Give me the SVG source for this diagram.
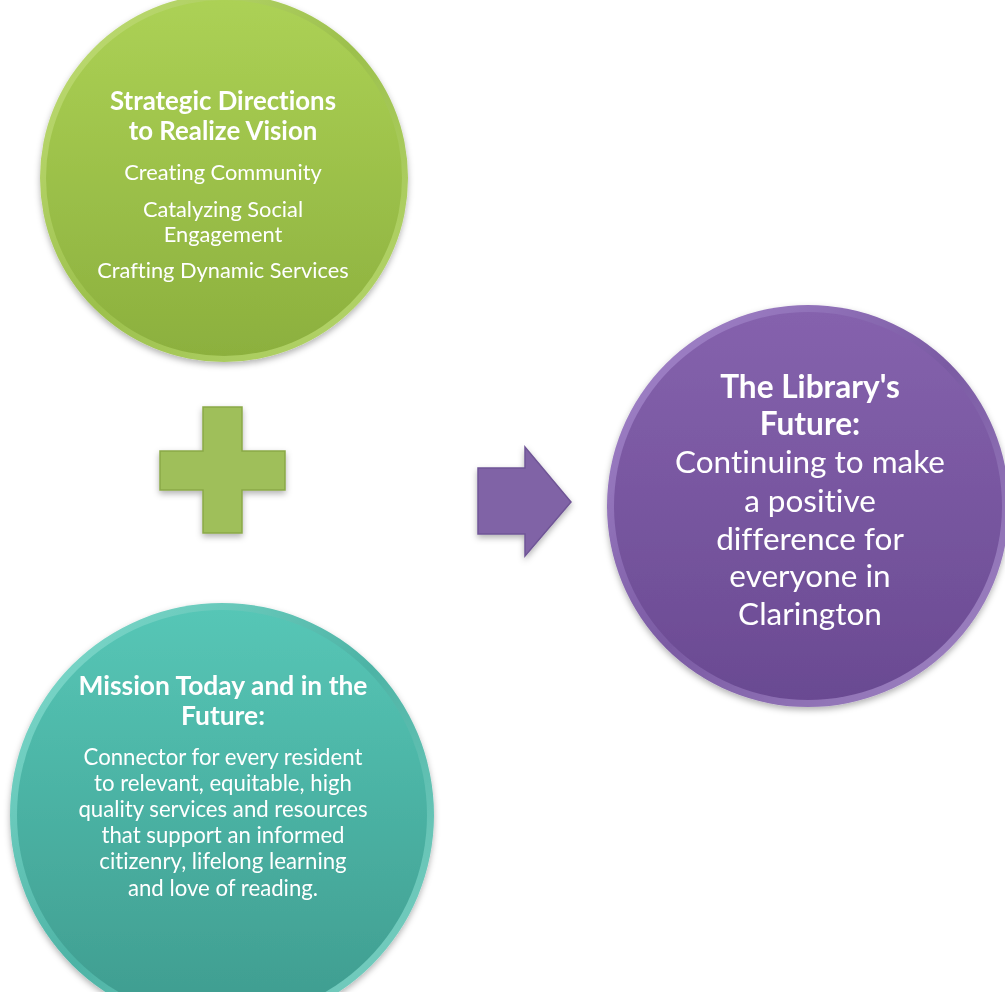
<svg xmlns="http://www.w3.org/2000/svg" width="1005" height="992" viewBox="0 0 1005 992">
<style>
  text { font-family: Lato, "Open Sans", "Liberation Sans", sans-serif; fill: #ffffff; text-anchor: middle; font-variant-ligatures: none; font-feature-settings: "liga" 0, "clig" 0; }
  .h { font-weight: bold; font-size: 25.8px; }
  .b { font-size: 21.8px; }
  .ph { font-weight: bold; font-size: 31.6px; }
  .pb { font-size: 31.5px; }
  .th { font-weight: bold; font-size: 26.4px; }
  .tb { font-size: 22.2px; }
</style>
<defs>
  <linearGradient id="gGreen" x1="0" y1="0" x2="0" y2="1">
    <stop offset="0" stop-color="#acd155"/>
    <stop offset="1" stop-color="#8cb03e"/>
  </linearGradient>
  <linearGradient id="gGreenRim" x1="0" y1="0" x2="1" y2="1">
    <stop offset="0" stop-color="#c4e07a"/>
    <stop offset="0.5" stop-color="#9cc04c"/>
    <stop offset="1" stop-color="#b8d870"/>
  </linearGradient>
  <linearGradient id="gPurple" x1="0" y1="0" x2="0" y2="1">
    <stop offset="0" stop-color="#8562ad"/>
    <stop offset="1" stop-color="#6a4a92"/>
  </linearGradient>
  <linearGradient id="gPurpleRim" x1="0" y1="0" x2="1" y2="1">
    <stop offset="0" stop-color="#a98bd0"/>
    <stop offset="0.5" stop-color="#7a5aa3"/>
    <stop offset="1" stop-color="#a58ac8"/>
  </linearGradient>
  <linearGradient id="gTeal" x1="0" y1="0" x2="0" y2="1">
    <stop offset="0" stop-color="#56c6b6"/>
    <stop offset="1" stop-color="#3f9c8f"/>
  </linearGradient>
  <linearGradient id="gTealRim" x1="0" y1="0" x2="1" y2="1">
    <stop offset="0" stop-color="#86e0d2"/>
    <stop offset="0.5" stop-color="#4db3a5"/>
    <stop offset="1" stop-color="#7fd4c6"/>
  </linearGradient>
  <filter id="shadow" x="-10%" y="-10%" width="120%" height="125%">
    <feDropShadow dx="0" dy="3" stdDeviation="3" flood-color="#000000" flood-opacity="0.3"/>
  </filter>
</defs>

<g id="node-strategic" filter="url(#shadow)">
  <circle cx="224" cy="178" r="184" fill="url(#gGreenRim)"/>
  <circle cx="224" cy="178" r="178" fill="url(#gGreen)"/>
  <text class="h" x="223" y="110">Strategic Directions</text>
  <text class="h" x="223" y="140">to Realize Vision</text>
  <text class="b" x="223" y="180">Creating Community</text>
  <text class="b" x="223" y="217">Catalyzing Social</text>
  <text class="b" x="223" y="242">Engagement</text>
  <text class="b" x="223" y="278">Crafting Dynamic Services</text>
</g>

<g id="node-future" filter="url(#shadow)">
  <circle cx="808" cy="506" r="201" fill="url(#gPurpleRim)"/>
  <circle cx="808" cy="506" r="194" fill="url(#gPurple)"/>
  <text class="ph" x="810" y="398">The Library's</text>
  <text class="ph" x="810" y="435">Future:</text>
  <text class="pb" x="810" y="473">Continuing to make</text>
  <text class="pb" x="810" y="512">a positive</text>
  <text class="pb" x="810" y="550">difference for</text>
  <text class="pb" x="810" y="587">everyone in</text>
  <text class="pb" x="810" y="625">Clarington</text>
</g>

<g id="node-mission" filter="url(#shadow)">
  <circle cx="222" cy="815" r="212" fill="url(#gTealRim)"/>
  <circle cx="222" cy="815" r="205" fill="url(#gTeal)"/>
  <text class="th" x="223" y="695">Mission Today and in the</text>
  <text class="th" x="223" y="725">Future:</text>
  <text class="tb" x="223" y="765">Connector for every resident</text>
  <text class="tb" x="223" y="791">to relevant, equitable, high</text>
  <text class="tb" x="223" y="817">quality services and resources</text>
  <text class="tb" x="223" y="843">that support an informed</text>
  <text class="tb" x="223" y="869">citizenry, lifelong learning</text>
  <text class="tb" x="223" y="896">and love of reading.</text>
</g>

<g id="connectors">
  <path id="plus" d="M203,407 H242 V451 H285 V490 H242 V533 H203 V490 H160 V451 H203 Z" fill="#9fbf5a" stroke="#8aa948" stroke-width="1.5" filter="url(#shadow)"/>
  <path id="arrow" d="M478,468 H525 V447 L571,502 L525,556 V534 H478 Z" fill="#8064a6" stroke="#6f5596" stroke-width="1.5" filter="url(#shadow)"/>
</g>
</svg>
